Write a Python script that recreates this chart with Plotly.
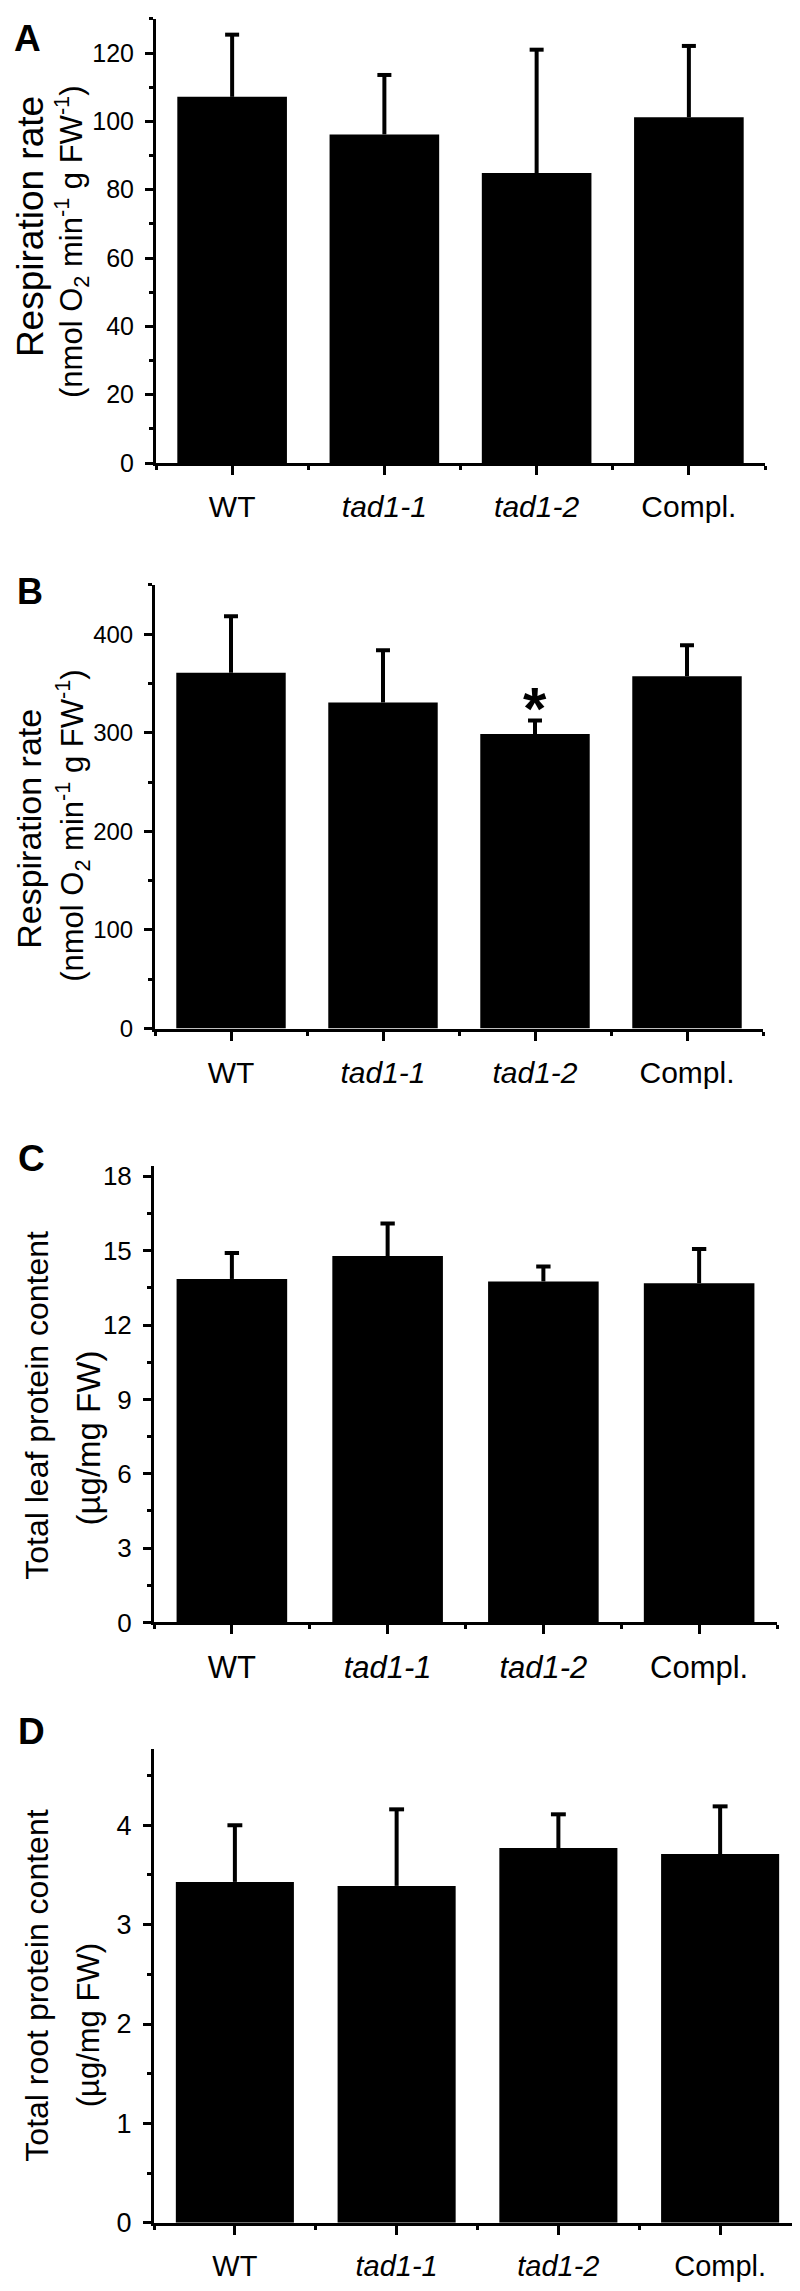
import plotly.graph_objects as go

# ---------------- data ----------------
categories = ["WT", "tad1-1", "tad1-2", "Compl."]
tick_text = ["WT", "<i>tad1-1</i>", "<i>tad1-2</i>", "Compl."]

resp_a_mean = [107.2, 96.2, 84.9, 101.2]
resp_a_sd = [18.2, 17.4, 36.1, 20.9]

resp_b_mean = [361.0, 330.8, 298.8, 357.5]
resp_b_sd = [57.3, 52.9, 13.7, 31.3]
resp_b_sig = ["", "", "*", ""]

leaf_c_mean = [13.86, 14.79, 13.76, 13.69]
leaf_c_sd = [1.05, 1.31, 0.60, 1.38]

root_d_mean = [3.43, 3.39, 3.77, 3.71]
root_d_sd = [0.57, 0.77, 0.34, 0.48]

W, H = 800, 2291
FONT = "Liberation Sans, Arial, sans-serif"
CAP_HW = 0.046  # half width of error-bar caps (category units)

# panel layout in pixels: left, right, top, bottom
panels = [
    dict(letter="A", mean=resp_a_mean, sd=resp_a_sd, sig=None,
         box=(148, 757, 6, 454), yrange=130, dtick=20, minor=10, bw=0.72,
         ytf=25, xtf=30,
         t1="Respiration rate", t1s=37, t1xy=(22, 216),
         t2="(nmol O<sub>2</sub> min<sup>-1</sup> g FW<sup>-1</sup>)", t2s=31, t2xy=(64, 231),
         lxy=(19, 26), ls=37),
    dict(letter="B", mean=resp_b_mean, sd=resp_b_sd, sig=resp_b_sig,
         box=(147, 755, 577, 1024.5), yrange=450, dtick=100, minor=50, bw=0.72,
         ytf=24, xtf=30,
         t1="Respiration rate", t1s=34, t1xy=(21, 823),
         t2="(nmol O<sub>2</sub> min<sup>-1</sup> g FW<sup>-1</sup>)", t2s=31, t2xy=(65, 820),
         lxy=(22, 584), ls=36),
    dict(letter="C", mean=leaf_c_mean, sd=leaf_c_sd, sig=None,
         box=(146, 769, 1163.6, 1623.6), yrange=18.4, dtick=3, minor=1.5, bw=0.71,
         ytf=26, xtf=31,
         t1="Total leaf protein content", t1s=32, t1xy=(29, 1405),
         t2="(\u00b5g/mg FW)", t2s=33, t2xy=(80, 1438),
         lxy=(23, 1156), ls=37),
    dict(letter="D", mean=root_d_mean, sd=root_d_sd, sig=None,
         box=(146, 793, 1751, 2229.3), yrange=4.77, dtick=1, minor=0.5, bw=0.73,
         ytf=27, xtf=29,
         t1="Total root protein content", t1s=32, t1xy=(29, 1990),
         t2="(\u00b5g/mg FW)", t2s=31, t2xy=(80, 2030),
         lxy=(23, 1734), ls=37),
]

fig = go.Figure()
annotations = []
layout_axes = {}

for i, p in enumerate(panels):
    n = "" if i == 0 else str(i + 1)
    xa, ya = "x" + n, "y" + n
    left, right, top, bottom = p["box"]
    xdom = [left / W, right / W]
    ydom = [1 - bottom / H, 1 - top / H]
    xs = list(range(len(categories)))

    fig.add_trace(go.Bar(
        x=xs, y=p["mean"], width=p["bw"],
        marker=dict(color="black", line=dict(width=0)),
        xaxis=xa, yaxis=ya, showlegend=False, hoverinfo="skip",
    ))

    # upward-only error bars built from mean and sd
    ex, ey = [], []
    for k, (m, s) in enumerate(zip(p["mean"], p["sd"])):
        ex += [k, k, None, k - CAP_HW, k + CAP_HW, None]
        ey += [m, m + s, None, m + s, m + s, None]
    fig.add_trace(go.Scatter(
        x=ex, y=ey, mode="lines", line=dict(color="black", width=4),
        xaxis=xa, yaxis=ya, showlegend=False, hoverinfo="skip",
    ))

    layout_axes["xaxis" + n] = dict(
        domain=xdom, anchor=ya, range=[-0.5, len(categories) - 0.5],
        tickmode="array", tickvals=xs, ticktext=tick_text,
        ticks="outside", ticklen=9, tickwidth=3, tickcolor="black",
        showline=True, linewidth=3, linecolor="black",
        showgrid=False, zeroline=False, ticklabelstandoff=6,
        tickfont=dict(family=FONT, size=p["xtf"], color="black"),
        minor=dict(tickmode="array",
                   tickvals=[k - 0.5 for k in range(len(categories) + 1)],
                   ticks="outside", ticklen=4, tickwidth=3, tickcolor="black"),
    )
    layout_axes["yaxis" + n] = dict(
        domain=ydom, anchor=xa, range=[0, p["yrange"]],
        tick0=0, dtick=p["dtick"],
        ticks="outside", ticklen=8, tickwidth=3, tickcolor="black",
        showline=True, linewidth=3, linecolor="black",
        showgrid=False, zeroline=False, ticklabelstandoff=6,
        tickfont=dict(family=FONT, size=p["ytf"], color="black"),
        minor=dict(tick0=0, dtick=p["minor"], ticks="outside", ticklen=4,
                   tickwidth=3, tickcolor="black"),
    )

    # panel letter
    annotations.append(dict(
        text="<b>%s</b>" % p["letter"], xref="paper", yref="paper",
        x=p["lxy"][0] / W, y=1 - p["lxy"][1] / H, xanchor="center", yanchor="middle",
        showarrow=False, font=dict(family=FONT, size=p["ls"], color="black")))
    # y titles (two lines)
    annotations.append(dict(
        text=p["t1"], xref="paper", yref="paper", textangle=-90,
        x=p["t1xy"][0] / W, y=1 - p["t1xy"][1] / H, xanchor="center", yanchor="middle",
        showarrow=False, font=dict(family=FONT, size=p["t1s"], color="black")))
    annotations.append(dict(
        text=p["t2"], xref="paper", yref="paper", textangle=-90,
        x=p["t2xy"][0] / W, y=1 - p["t2xy"][1] / H, xanchor="center", yanchor="middle",
        showarrow=False, font=dict(family=FONT, size=p["t2s"], color="black")))
    # significance marks
    if p["sig"]:
        for k, s in enumerate(p["sig"]):
            if s:
                annotations.append(dict(
                    text="<b>%s</b>" % s, xref=xa, yref=ya, x=k,
                    y=p["mean"][k] + p["sd"][k], xanchor="center", yanchor="middle",
                    yshift=12, showarrow=False,
                    font=dict(family=FONT, size=60, color="black")))

fig.update_layout(
    width=W, height=H, margin=dict(l=0, r=0, t=0, b=0),
    paper_bgcolor="white", plot_bgcolor="white",
    annotations=annotations, **layout_axes,
)

fig.write_html("out.html")
